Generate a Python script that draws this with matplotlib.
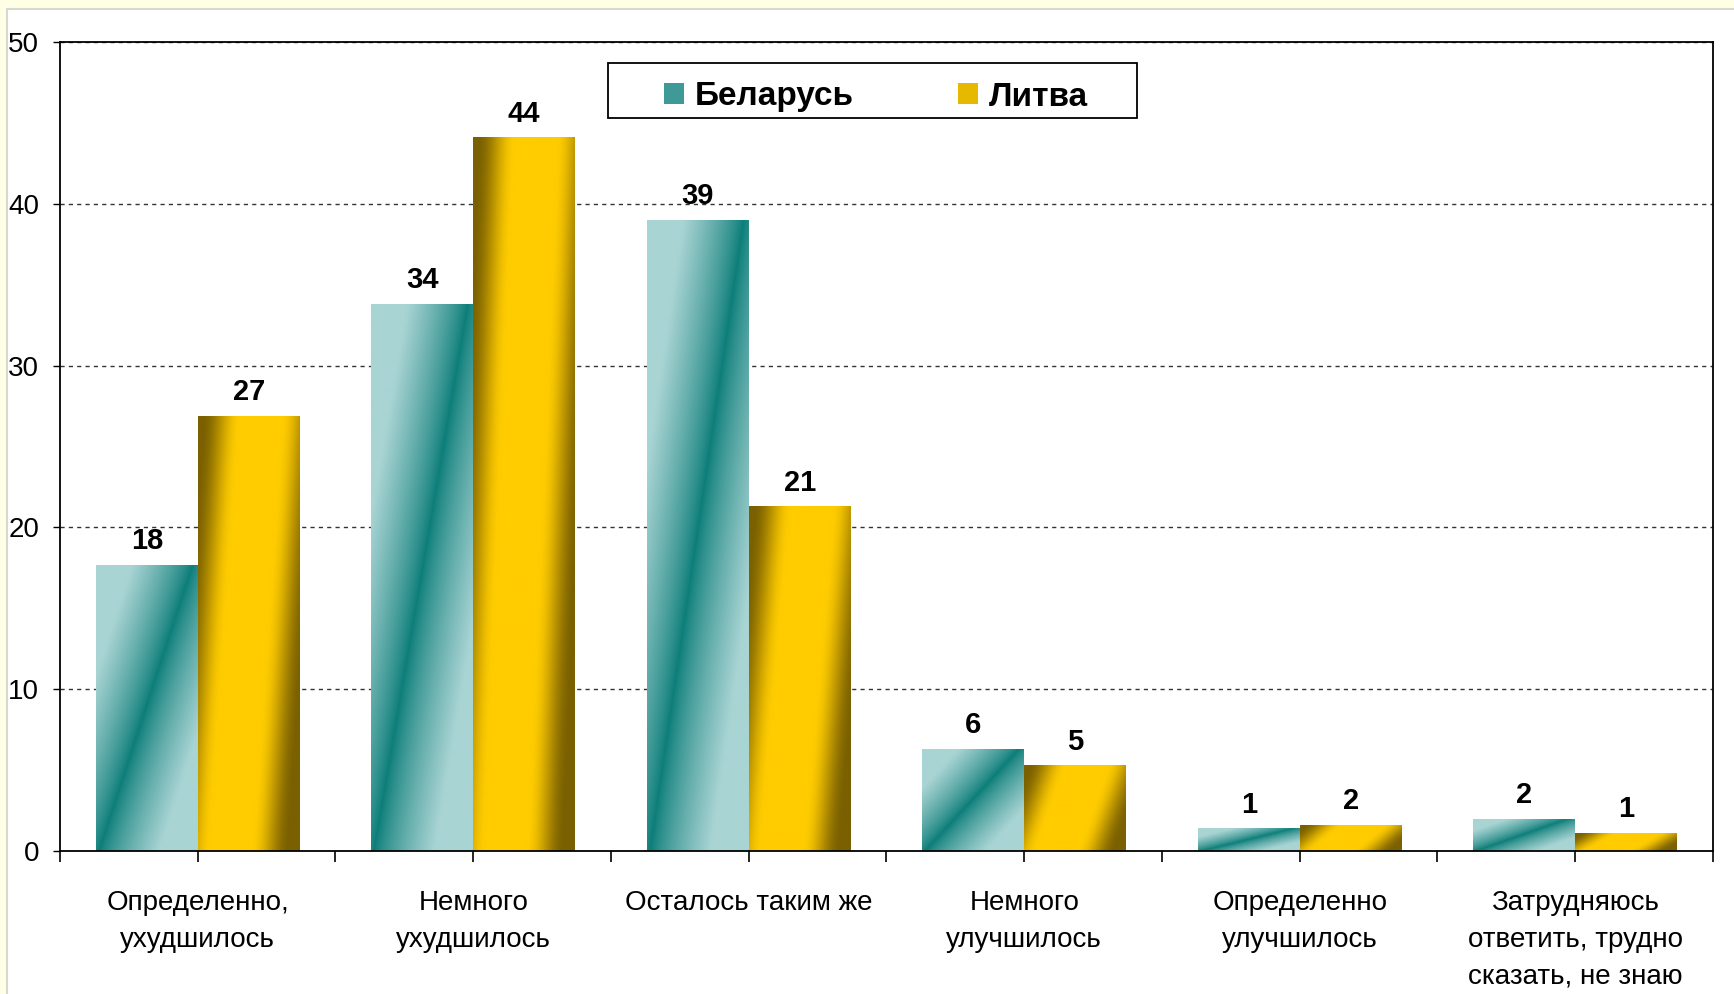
import matplotlib.pyplot as plt
import numpy as np
from matplotlib.patches import Rectangle
from matplotlib.colors import to_rgb

# Данные опроса
categories = ["Определенно,\nухудшилось", "Немного\nухудшилось", "Осталось таким же",
              "Немного\nулучшилось", "Определенно\nулучшилось",
              "Затрудняюсь\nответить, трудно\nсказать, не знаю"]
belarus = [17.7, 33.8, 39.0, 6.3, 1.4, 2.0]
litva = [26.9, 44.1, 21.3, 5.3, 1.6, 1.1]
belarus_labels = [18, 34, 39, 6, 1, 2]
litva_labels = [27, 44, 21, 5, 2, 1]
series_names = ["Беларусь", "Литва"]

plt.rcParams['font.family'] = ['Liberation Sans', 'DejaVu Sans']


def smooth(t):
    t = np.clip(t, 0, 1)
    return t * t * (3 - 2 * t)


def teal_gradient(n=100):
    # диагональный градиент: темная полоса из нижнего левого угла в верхний правый
    u = np.linspace(0, 1, n)[None, :]
    v = np.linspace(1, 0, n)[:, None]  # сверху вниз
    d = np.abs(u - (0.03 + 0.92 * v))
    t = np.clip(d / 0.6, 0, 1) ** 0.8
    t = t[..., None]
    dark = np.array(to_rgb("#0b7d78"))
    light = np.array(to_rgb("#a9d4d4"))
    return dark * (1 - t) + light * t


def gold_gradient(n=100):
    u = np.linspace(0, 1, n)[None, :]
    v = np.linspace(1, 0, n)[:, None]
    s = u - 0.3 * (v - 0.5)
    # темные края, золото в середине
    t = smooth((1 - np.abs(s - 0.47) / 0.58) / 0.65)[..., None]
    dark = np.array(to_rgb("#7a6000"))
    gold = np.array(to_rgb("#ffcc00"))
    return dark * (1 - t) + gold * t


fig = plt.figure(figsize=(17.34, 9.94), dpi=100)
fig.patch.set_facecolor("#ffffe6")
fig.patches.append(Rectangle((7 / 1734, -0.01), 1, 1 - 9 / 994 + 0.01, transform=fig.transFigure,
                             facecolor="white", edgecolor="#d8d8d0", linewidth=1.5, zorder=-10))
ax = fig.add_axes([60 / 1734, 1 - 851 / 994, (1713 - 60) / 1734, (851 - 42) / 994])
ax.set_facecolor("white")

x = np.arange(len(categories))
w = 0.37
imgs = [teal_gradient(), gold_gradient()]
for k, (vals, img) in enumerate(zip([belarus, litva], imgs)):
    offs = -w / 2 if k == 0 else w / 2
    bars = ax.bar(x + offs, vals, width=w, color="none", edgecolor="none", zorder=2)
    for b in bars:
        x0, y0 = b.get_x(), b.get_y()
        im = ax.imshow(img, extent=[x0, x0 + b.get_width(), y0, y0 + b.get_height()],
                       aspect="auto", interpolation="bilinear", zorder=2)
        im.set_clip_path(b)

for i in range(len(categories)):
    ax.text(x[i] - w / 2, belarus[i] + 0.6, str(belarus_labels[i]), ha="center", va="bottom",
            fontsize=21, fontweight="bold")
    ax.text(x[i] + w / 2, litva[i] + 0.6, str(litva_labels[i]), ha="center", va="bottom",
            fontsize=21, fontweight="bold")

ax.set_xlim(-0.5, len(categories) - 0.5)
ax.set_ylim(0, 50)
ax.set_yticks([0, 10, 20, 30, 40, 50])
ax.set_xticks(x)
ax.set_xticklabels(categories, fontsize=20, linespacing=1.55)
ax.set_xticks(np.arange(-0.5, len(categories), 1.0), minor=True)
ax.tick_params(axis="x", which="both", direction="out", length=8, width=1.2, pad=20)
ax.tick_params(axis="y", direction="out", length=5, width=1, pad=10, labelsize=20)
for sp in ax.spines.values():
    sp.set_linewidth(1.3)
    sp.set_color("black")
ax.yaxis.grid(True, linestyle=(0, (3, 3)), color="#333333", linewidth=1)
ax.set_axisbelow(True)

# легенда: рамка отдельно, чтобы задать её размер
frame = Rectangle((608 / 1734, 1 - 118 / 994), (1137 - 608) / 1734, 55 / 994,
                  transform=fig.transFigure, facecolor="white", edgecolor="black",
                  linewidth=1.3, zorder=5, clip_on=False)
ax.add_patch(frame)
h1 = Rectangle((0, 0), 1, 1, facecolor="#3f9a97")
h2 = Rectangle((0, 0), 1, 1, facecolor="#e6b800")
leg = ax.legend([h1, h2], series_names, loc="center", ncol=2,
                bbox_to_anchor=((608 + 1137) / 2 / 1734 + 0.002, 1 - 97 / 994),
                bbox_transform=fig.transFigure, frameon=False,
                fontsize=24, handlelength=0.6, handleheight=0.6,
                handletextpad=0.35, columnspacing=3.1, borderaxespad=0)
leg.set_zorder(7)
for t in leg.get_texts():
    t.set_fontweight("bold")

fig.savefig("out.png", dpi=100, facecolor=fig.get_facecolor())
